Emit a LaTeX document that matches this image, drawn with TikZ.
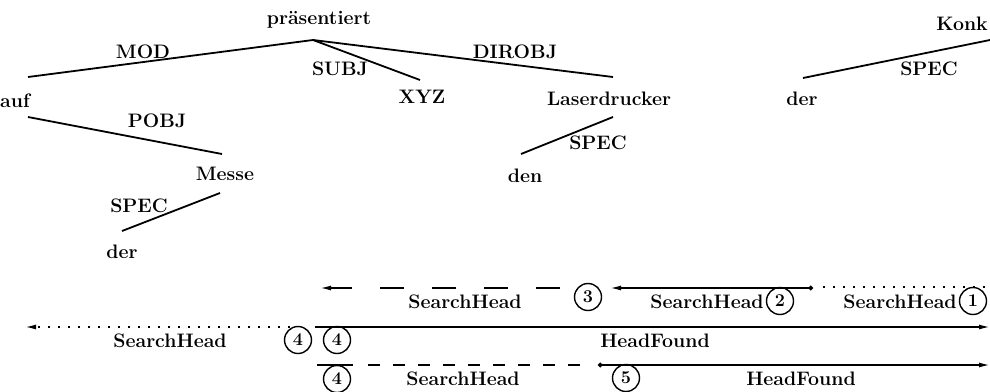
\documentclass[tikz,border=0pt]{standalone}
\usepackage{fontspec}
\usetikzlibrary{arrows.meta}
\tikzset{
  x=1pt,y=-1pt,
  word/.style={anchor=base,inner sep=0pt,font=\fontsize{19.5}{22}\selectfont\bfseries},
  lab/.style={anchor=base,inner sep=0pt,font=\fontsize{19.5}{22}\selectfont\bfseries},
  num/.style={draw,circle,line width=1.4pt,minimum size=27pt,inner sep=0pt,font=\fontsize{18}{20}\selectfont\bfseries},
  edge/.style={line width=1.8pt},
  flow/.style={line width=1.6pt},
  tipL/.style={-{Latex[length=11pt,width=5pt]}},
  dotL/.style={{Circle[length=4.5pt]}-{Latex[length=11pt,width=5pt]}},
}
\begin{document}
\begin{tikzpicture}
\path[use as bounding box] (0,0) rectangle (990,391);
% tree words
\node[word] (praes) at (319,24) {präsentiert};
\node[word,anchor=base west] (auf) at (0,107) {auf};
\node[word] (xyz) at (422,103) {XYZ};
\node[word] (laser) at (609,105) {Laserdrucker};
\node[word] (messe) at (225,180) {Messe};
\node[word] (den) at (525,182) {den};
\node[word] (derA) at (122,258) {der};
\node[word] (derB) at (802,105) {der};
\node[word,anchor=base east] (konk) at (988,30) {Konk};
% edge labels
\node[lab] (lmod) at (143,58) {MOD};
\node[lab] (lsubj) at (340,75) {SUBJ};
\node[lab] (ldir) at (515,58) {DIROBJ};
\node[lab] (lpobj) at (157,127) {POBJ};
\node[lab] (lspecL) at (598,149) {SPEC};
\node[lab] (lspecK) at (929,75) {SPEC};
\node[lab] (lspecM) at (139,212) {SPEC};
% edge end points
\coordinate (root) at (313,40);
\coordinate (modE) at (28,77);
\coordinate (subjE) at (420,80);
\coordinate (dirE) at (613,77);
\coordinate (pobjS) at (28,117);
\coordinate (pobjE) at (222,154);
\coordinate (ldS) at (613,117);
\coordinate (ldE) at (521,154);
\coordinate (mdS) at (220,193);
\coordinate (mdE) at (122,231);
\coordinate (kdS) at (803,78);
\coordinate (kdE) at (990,40);
\draw[edge] (root) -- (modE);
\draw[edge] (root) -- (subjE);
\draw[edge] (root) -- (dirE);
\draw[edge] (pobjS) -- (pobjE);
\draw[edge] (ldS) -- (ldE);
\draw[edge] (mdS) -- (mdE);
\draw[edge] (kdS) -- (kdE);
% bottom labels
\node[lab] (sh1a) at (465,308) {SearchHead};
\node[lab] (sh1b) at (707,308) {SearchHead};
\node[lab] (sh1c) at (900,308) {SearchHead};
\node[lab] (sh2) at (170,347) {SearchHead};
\node[lab] (hf2) at (655,347) {HeadFound};
\node[lab] (sh3) at (463,385) {SearchHead};
\node[lab] (hf3) at (801,385) {HeadFound};
\node[num] (c3) at (588,297) {3};
\node[num] (c2) at (780,301) {2};
\node[num] (c1) at (973,301) {1};
\node[num] (c4a) at (298,340) {4};
\node[num] (c4b) at (337,340) {4};
\node[num] (c4c) at (337,379) {4};
\node[num] (c5) at (626,378) {5};
% flow lines
\coordinate (r1dS) at (560,288);
\coordinate (r1dE) at (320,288);
\coordinate (r1sS) at (813,288);
\coordinate (r1sE) at (610,288);
\coordinate (r1oS) at (985,287);
\coordinate (r1oE) at (816,287);
\coordinate (r2oS) at (290,327);
\coordinate (r2oE) at (25,327);
\coordinate (r2sS) at (315,327);
\coordinate (r2sE) at (990,327);
\coordinate (r3aS) at (317,365);
\coordinate (r3aE) at (353,365);
\coordinate (r3dS) at (368,365);
\coordinate (r3dE) at (585,365);
\coordinate (r3sS) at (598,365);
\coordinate (r3sE) at (990,365);
\draw[flow,tipL,dash pattern=on 24pt off 28pt] (r1dS) -- (r1dE);
\draw[flow,dotL] (r1sS) -- (r1sE);
\draw[flow,dash pattern=on 1.6pt off 8.4pt] (r1oS) -- (r1oE);
\draw[flow,tipL,dash pattern=on 1.6pt off 8.4pt] (r2oS) -- (r2oE);
\draw[flow,tipL] (r2sS) -- (r2sE);
\draw[flow] (r3aS) -- (r3aE);
\draw[flow,dash pattern=on 12pt off 13pt] (r3dS) -- (r3dE);
\draw[flow,dotL] (r3sS) -- (r3sE);
\end{tikzpicture}
\end{document}
